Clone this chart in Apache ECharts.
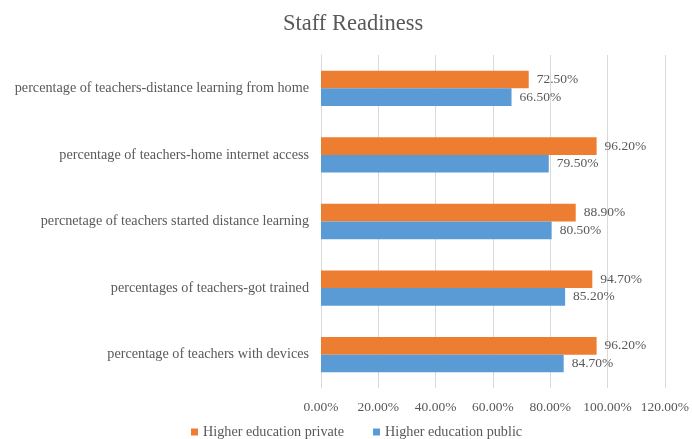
<!DOCTYPE html>
<html>
<head>
<meta charset="utf-8">
<script src="https://cdn.jsdelivr.net/npm/echarts@6/dist/echarts.min.js"></script>
<style>
  html, body { margin: 0; padding: 0; background: #fff; }
  #chart { width: 692px; height: 439px; }
</style>
</head>
<body>
<div id="chart"></div>
<script>
// categories, top to bottom
var categories = [
  'percentage of teachers-distance learning from home',
  'percentage of teachers-home internet access',
  'percnetage of teachers started distance learning',
  'percentages of teachers-got trained',
  'percentage of teachers with devices'
];
var privateValues = [72.5, 96.2, 88.9, 94.7, 96.2];
var publicValues = [66.5, 79.5, 80.5, 85.2, 84.7];
var xTicks = { min: 0, max: 120, interval: 20 };

var font = 'Liberation Serif';
var grey = '#595959';

var chart = echarts.init(document.getElementById('chart'));

function pctLabel(p) {
  return p.value.toFixed(2) + '%';
}

var option = {
  animation: false,
  title: {
    text: 'Staff Readiness',
    left: 283,
    top: 13,
    padding: 0,
    textStyle: { fontFamily: font, fontSize: 22.5, fontWeight: 'normal', color: grey }
  },
  legend: {
    top: 425,
    left: 191,
    padding: 0,
    itemWidth: 7,
    itemHeight: 7,
    itemGap: 29,
    icon: 'rect',
    textStyle: { fontFamily: font, fontSize: 14.2, color: grey },
    data: ['Higher education private', 'Higher education public']
  },
  grid: { left: 321, right: 26, top: 55, bottom: 51 },
  xAxis: {
    type: 'value',
    min: xTicks.min,
    max: xTicks.max,
    interval: xTicks.interval,
    axisLine: { show: false },
    axisTick: { show: false },
    splitLine: { lineStyle: { color: '#d9d9d9' } },
    axisLabel: {
      fontFamily: font, fontSize: 13.5, color: grey, margin: 12,
      formatter: function (v) { return v.toFixed(2) + '%'; }
    }
  },
  yAxis: {
    type: 'category',
    inverse: true,
    data: categories,
    axisLine: { show: true, lineStyle: { color: '#d9d9d9' } },
    axisTick: { show: false },
    axisLabel: { fontFamily: font, fontSize: 14.2, color: grey, margin: 12 }
  },
  series: [
    {
      name: 'Higher education private',
      type: 'bar',
      data: privateValues,
      itemStyle: { color: '#ED7D31' },
      barGap: '0%',
      barCategoryGap: '47%',
      label: { show: true, position: 'right', distance: 8, formatter: pctLabel,
        fontFamily: font, fontSize: 13.5, color: grey }
    },
    {
      name: 'Higher education public',
      type: 'bar',
      data: publicValues,
      itemStyle: { color: '#5B9BD5' },
      barGap: '0%',
      barCategoryGap: '47%',
      label: { show: true, position: 'right', distance: 8, formatter: pctLabel,
        fontFamily: font, fontSize: 13.5, color: grey }
    }
  ]
};

chart.setOption(option);
</script>
</body>
</html>
